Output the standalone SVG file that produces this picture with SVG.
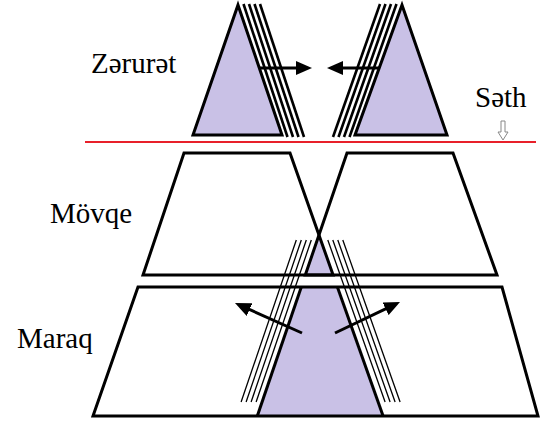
<svg xmlns="http://www.w3.org/2000/svg" width="540" height="424" viewBox="0 0 540 424">
<defs>
<marker id="ah" viewBox="0 0 16 14" refX="7" refY="7" markerWidth="16" markerHeight="14" markerUnits="userSpaceOnUse" orient="auto">
<path d="M0,0 L16,7 L0,14 z" fill="#000"/>
</marker>
</defs>
<rect width="540" height="424" fill="#fff"/>
<g id="zerurat">
<g stroke="#000" stroke-width="2.6" fill="none">
<line x1="243.5" y1="4" x2="287.5" y2="137"/>
<line x1="249" y1="4" x2="293" y2="137"/>
<line x1="254.5" y1="4" x2="298.5" y2="137"/>
<line x1="260" y1="4" x2="304" y2="137"/>
<line x1="396.5" y1="4" x2="349.5" y2="137"/>
<line x1="391" y1="4" x2="344" y2="137"/>
<line x1="385.5" y1="4" x2="338.5" y2="137"/>
<line x1="380" y1="4" x2="333" y2="137"/>
</g>
<g fill="#c9c1e6" stroke="#000" stroke-width="3">
<polygon points="238,5 282,135 193,135"/>
<polygon points="402,5 447,135 355,135"/>
</g>
<text x="91" y="73" style="font-family:'Liberation Serif';font-size:29px">Zərurət</text>
</g>
<g id="seth">
<line x1="85" y1="142" x2="536" y2="142" stroke="#e8202a" stroke-width="2"/>
<path d="M501,121 H505 V132 H508 L503,140 L498,132 H501 Z" fill="#fff" stroke="#888" stroke-width="1"/>
<text x="475" y="107" style="font-family:'Liberation Serif';font-size:29px">Səth</text>
</g>
<g id="movqe">
<polygon points="319,235 333.1,275 305.3,275" fill="#c9c1e6"/>
<g fill="none" stroke="#000" stroke-width="3">
<polygon points="184,153 290,153 333.1,275 143,275"/>
<polygon points="347,153 453,153 497,275 305.3,275"/>
</g>
<text x="50" y="223" style="font-family:'Liberation Serif';font-size:29px">Mövqe</text>
</g>
<g id="maraq">
<polygon points="301.3,287 337.4,287 383.1,416 257.3,416" fill="#c9c1e6"/>
<g stroke="#000" stroke-width="1.3" fill="none">
<line x1="311.3" y1="240" x2="256.1" y2="402"/>
<line x1="306.3" y1="240" x2="251.1" y2="402"/>
<line x1="301.3" y1="240" x2="246.1" y2="402"/>
<line x1="296.3" y1="240" x2="241.1" y2="402"/>
<line x1="327.8" y1="240" x2="385.1" y2="402"/>
<line x1="332.8" y1="240" x2="390.1" y2="402"/>
<line x1="337.8" y1="240" x2="395.1" y2="402"/>
<line x1="342.8" y1="240" x2="400.1" y2="402"/>
</g>
<g fill="none" stroke="#000" stroke-width="3">
<line x1="301.3" y1="287" x2="257.3" y2="416"/>
<line x1="337.4" y1="287" x2="383.1" y2="416"/>
<polygon points="138,287 502,287 538,416 93,416"/>
</g>
<text x="17" y="348" style="font-family:'Liberation Serif';font-size:29px">Maraq</text>
</g>
<g id="connectors" stroke="#000" stroke-width="3" fill="none" marker-end="url(#ah)">
<line x1="260" y1="68" x2="303" y2="68"/>
<line x1="380" y1="68" x2="336" y2="68"/>
<line x1="302" y1="333" x2="243.2" y2="306.7"/>
<line x1="335" y1="333" x2="391.9" y2="305.8"/>
</g>
</svg>
